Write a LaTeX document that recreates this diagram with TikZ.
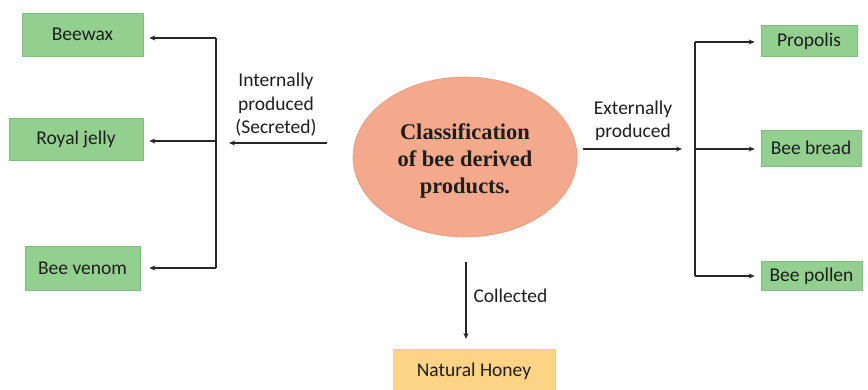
\documentclass[tikz,border=0pt]{standalone}
\usepackage{fontspec}
\setmainfont{Carlito}
\newfontfamily\titlefont{Liberation Serif}
\usetikzlibrary{arrows.meta,shapes.geometric}
\definecolor{boxgreen}{HTML}{93D08F}
\definecolor{boxgreenedge}{HTML}{7FBF7B}
\definecolor{salmon}{HTML}{F4A98C}
\definecolor{salmonedge}{HTML}{E8967A}
\definecolor{honey}{HTML}{FDD385}
\definecolor{textdark}{HTML}{1E1E1E}
\begin{document}
\begin{tikzpicture}[x=1pt,y=-1pt,
  product/.style={rectangle, fill=boxgreen, draw=boxgreenedge, line width=0.6pt,
    font=\fontsize{19.5}{23.5}\selectfont, text=textdark, inner sep=0pt},
  conn/.style={line width=1.2pt, draw=black!85},
  arr/.style={conn, -{Stealth[length=6pt,width=5pt]}},
  lbl/.style={font=\fontsize{19.5}{23.5}\selectfont, text=textdark, align=center}]
\useasboundingbox (0,0) rectangle (868,390);
\fill[white] (0,0) rectangle (868,390);

% central topic
\node[ellipse, fill=salmon, draw=salmonedge, line width=0.6pt,
  minimum width=224pt, minimum height=160pt, inner sep=0pt] (core) at (465,157) {};
\node[font=\titlefont\bfseries\fontsize{22.5}{27}\selectfont, align=center, text=textdark]
  (coretext) at ([yshift=-4pt]core.center) {Classification\\of bee derived\\products.};

% product boxes
\node[product, minimum width=121pt, minimum height=43pt] (wax)    at (82.5,34.5)  {Beewax};
\node[product, minimum width=134pt, minimum height=42pt] (jelly)  at (76,139)     {Royal jelly};
\node[product, minimum width=115pt, minimum height=44pt] (venom)  at (82.5,268)   {Bee venom};
\node[product, minimum width=96pt,  minimum height=31pt] (prop)   at (809,41)     {Propolis};
\node[product, minimum width=100pt, minimum height=36pt] (bread)  at (811,148)    {Bee bread};
\node[product, minimum width=101pt, minimum height=29pt] (pollen) at (811.5,276)  {Bee pollen};
\node[rectangle, fill=honey, draw=honey!90!orange, line width=0.6pt, inner sep=0pt,
  minimum width=162pt, minimum height=44pt, font=\fontsize{19.5}{23.5}\selectfont, text=textdark]
  (honey) at (474,371) {Natural Honey};

% internally produced branch
\coordinate (inS) at (327,143);
\coordinate (inE) at (229,143);
\coordinate (lt) at (216,38);
\coordinate (lm) at (216,141);
\coordinate (lb) at (216,268);
\draw[arr] (inS) -- (inE);
\draw[conn] (lt) -- (lb);
\draw[arr] (lt) -- ([xshift=6pt]wax.east |- lt);
\draw[arr] (lm) -- ([xshift=6pt]jelly.east |- lm);
\draw[arr] (lb) -- ([xshift=9pt]venom.east |- lb);
\node[lbl] (inlbl) at (276,105) {Internally\\produced\\(Secreted)};

% externally produced branch
\coordinate (exS) at (583,149);
\coordinate (exE) at (682,149);
\coordinate (rt) at (695,42);
\coordinate (rm) at (695,149);
\coordinate (rb) at (695,276);
\draw[arr] (exS) -- (exE);
\draw[conn] (rt) -- (rb);
\draw[arr] (rt) -- ([xshift=-6pt]prop.west |- rt);
\draw[arr] (rm) -- ([xshift=-6pt]bread.west |- rm);
\draw[arr] (rb) -- ([xshift=-6pt]pollen.west |- rb);
\node[lbl] (exlbl) at (633,121) {Externally\\produced};

% collected branch
\coordinate (cS) at (466,262);
\coordinate (cE) at (466,339);
\draw[arr] (cS) -- (cE);
\node[lbl, anchor=west] (clbl) at (470,296) {Collected};
\end{tikzpicture}
\end{document}
